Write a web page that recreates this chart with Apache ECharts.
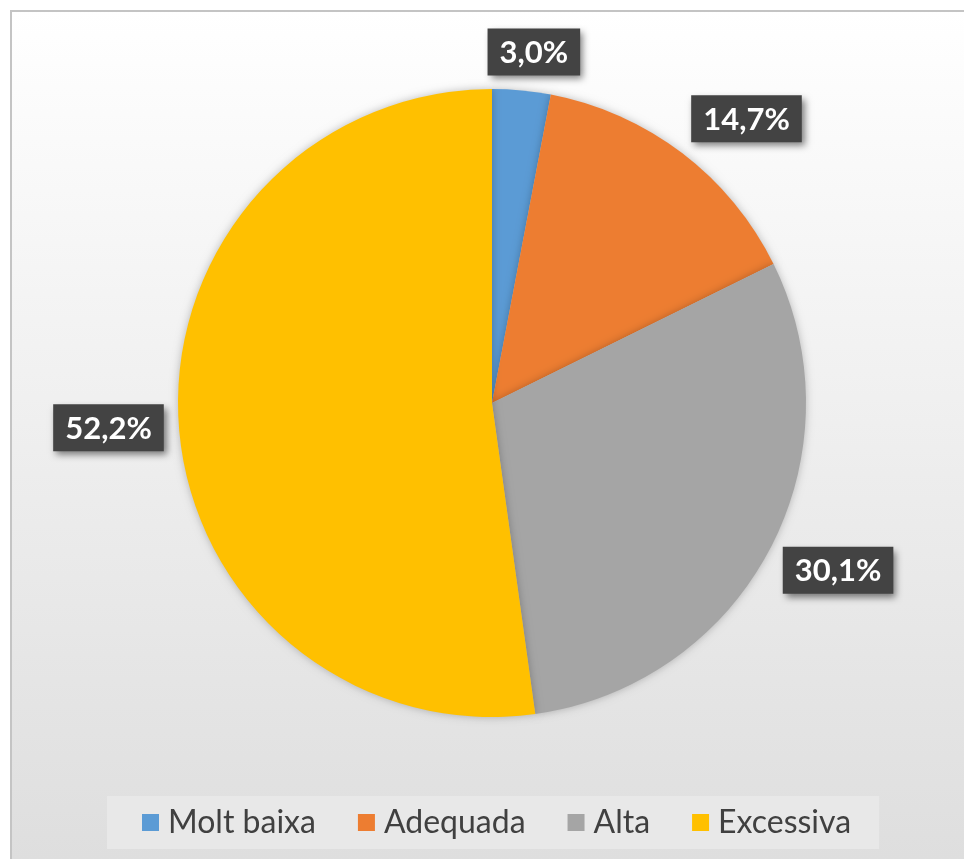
<!DOCTYPE html>
<html>
<head>
<meta charset="utf-8">
<script src="https://cdn.jsdelivr.net/npm/echarts@6/dist/echarts.min.js"></script>
<style>
  html, body { margin: 0; padding: 0; background: #fff; }
  #main { width: 964px; height: 859px; }
</style>
</head>
<body>
<div id="main"></div>
<script>
const categories = ['Molt baixa', 'Adequada', 'Alta', 'Excessiva'];
const values = [3.0, 14.7, 30.1, 52.2];
const colors = ['#5b9bd5', '#ed7d31', '#a5a5a5', '#ffc000'];

const cx = 492, cy = 403, radius = 314;
const labelFont = 'bold 31px Lato';
const padX = 12, boxH = 47;

const measure = document.createElement('canvas').getContext('2d');
measure.font = labelFont;

const total = values.reduce((a, b) => a + b, 0);
function midAngle(i) {
    let before = 0;
    for (let k = 0; k < i; k++) before += values[k];
    return (before + values[i] / 2) / total * Math.PI * 2;
}
function fmt(v) {
    return v.toFixed(1).replace('.', ',') + '%';
}
function clamp(v) {
    return Math.max(-1, Math.min(1, v));
}

let myChart = echarts.init(document.getElementById('main'));
myChart.setOption({
    color: colors,
    graphic: [{
        type: 'rect',
        shape: { x: 11, y: 11, width: 1000, height: 900 },
        style: {
            stroke: '#c4c4c4',
            lineWidth: 2,
            fill: {
                type: 'linear', x: 0, y: 0, x2: 0, y2: 1,
                colorStops: [
                    { offset: 0, color: '#ffffff' },
                    { offset: 1, color: '#dcdcdc' }
                ]
            }
        },
        z: -10
    }],
    legend: {
        data: categories,
        top: 796,
        left: 107,
        backgroundColor: '#e8e8e8',
        padding: [10, 28, 10, 35],
        itemWidth: 17,
        itemHeight: 17,
        itemGap: 42,
        icon: 'rect',
        textStyle: {
            fontFamily: 'Lato',
            fontSize: 32,
            color: '#404040',
            lineHeight: 33,
            padding: [0, 0, 0, 4]
        }
    },
    series: [{
        type: 'pie',
        center: [cx, cy],
        radius: radius,
        startAngle: 90,
        clockwise: true,
        animation: false,
        avoidLabelOverlap: false,
        data: categories.map((c, i) => ({ name: c, value: values[i] })),
        itemStyle: {
            borderWidth: 0,
            shadowBlur: 8,
            shadowColor: 'rgba(0,0,0,0.25)'
        },
        labelLine: { show: false },
        label: {
            show: true,
            position: 'outside',
            formatter: p => fmt(p.value),
            fontFamily: 'Lato',
            fontWeight: 'bold',
            fontSize: 31,
            lineHeight: 33,
            color: '#ffffff',
            backgroundColor: '#434343',
            padding: [8, padX, 6, padX],
            shadowColor: 'rgba(0,0,0,0.5)',
            shadowBlur: 7,
            shadowOffsetX: 3,
            shadowOffsetY: 4
        },
        // label box placed around an anchor just outside the slice, like Excel does
        labelLayout: function (params) {
            const i = params.dataIndex;
            const w = measure.measureText(fmt(values[i])).width + padX * 2;
            const a = midAngle(i);
            const dx = Math.sin(a), dy = -Math.cos(a);
            const ax = cx + dx * (radius + 15), ay = cy + dy * (radius + 15);
            const bx = ax + clamp(2.5 * dx) * w / 2;
            const by = ay + clamp(1.2 * dy) * boxH / 2;
            return {
                x: bx - w / 2,
                y: by - boxH / 2,
                align: 'left',
                verticalAlign: 'top'
            };
        }
    }]
});
</script>
</body>
</html>
